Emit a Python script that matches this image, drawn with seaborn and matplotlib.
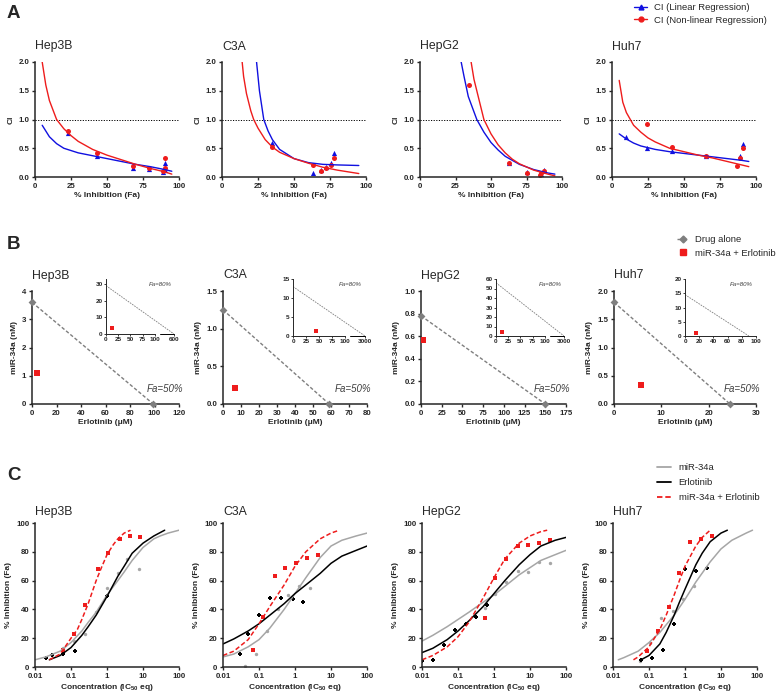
import numpy as np
import matplotlib
matplotlib.use('Agg')
import matplotlib.pyplot as plt
import seaborn as sns
from matplotlib.lines import Line2D
from matplotlib.ticker import NullLocator

sns.set_style('ticks')
plt.rcParams['font.family'] = ['Liberation Sans', 'DejaVu Sans']
plt.rcParams['mathtext.fontset'] = 'custom'
plt.rcParams['mathtext.rm'] = 'Liberation Sans'
plt.rcParams['mathtext.bf'] = 'Liberation Sans:bold'
plt.rcParams['mathtext.default'] = 'bf'

# ==========================================
# 数据
# ==========================================
CELLS = ['Hep3B', 'C3A', 'HepG2', 'Huh7']

# --- A: CI vs % inhibition ---
ci_lin_curve = {
    'Hep3B': ([5, 10, 15, 20, 30, 40, 50, 60, 70, 80, 90, 95],
              [0.90, 0.70, 0.58, 0.50, 0.42, 0.37, 0.32, 0.27, 0.22, 0.18, 0.13, 0.10]),
    'C3A': ([24, 26, 29, 32, 35, 40, 50, 60, 70, 80, 95],
            [2.0, 1.5, 1.0, 0.8, 0.65, 0.48, 0.32, 0.25, 0.22, 0.21, 0.20]),
    'HepG2': ([29, 31, 34, 37, 40, 45, 50, 55, 60, 70, 80, 90, 95],
              [2.0, 1.75, 1.4, 1.2, 1.0, 0.78, 0.6, 0.47, 0.36, 0.22, 0.13, 0.07, 0.05]),
    'Huh7': ([5, 10, 15, 20, 30, 40, 50, 60, 70, 80, 90, 95],
             [0.75, 0.66, 0.59, 0.54, 0.48, 0.44, 0.41, 0.38, 0.35, 0.32, 0.29, 0.27]),
}
ci_nonlin_curve = {
    'Hep3B': ([5, 7.5, 10, 15, 20, 25, 30, 40, 50, 60, 70, 80, 90, 95],
              [2.0, 1.6, 1.33, 1.0, 0.84, 0.72, 0.62, 0.48, 0.38, 0.30, 0.22, 0.15, 0.09, 0.05]),
    'C3A': ([14, 15, 17, 20, 22, 25, 30, 35, 40, 50, 60, 70, 80, 90, 95],
            [2.0, 1.75, 1.45, 1.15, 1.0, 0.85, 0.65, 0.52, 0.43, 0.32, 0.24, 0.17, 0.12, 0.08, 0.06]),
    'HepG2': ([36, 38, 40, 43, 45, 50, 55, 60, 65, 70, 80, 90, 95],
              [2.0, 1.7, 1.5, 1.2, 1.0, 0.75, 0.56, 0.42, 0.31, 0.23, 0.12, 0.05, 0.02]),
    'Huh7': ([5, 7.5, 10, 15, 20, 25, 30, 40, 50, 60, 70, 80, 90, 95],
             [1.68, 1.3, 1.12, 0.9, 0.78, 0.68, 0.61, 0.50, 0.44, 0.38, 0.33, 0.27, 0.21, 0.18]),
}
ci_lin_pts = {
    'Hep3B': ([23, 43, 68, 79, 89, 90, 90], [0.76, 0.37, 0.15, 0.14, 0.08, 0.25, 0.13]),
    'C3A': ([35, 63.5, 68.5, 72, 76, 78], [0.60, 0.07, 0.12, 0.17, 0.24, 0.41]),
    'HepG2': ([62.5, 75, 85, 87.5], [0.25, 0.09, 0.06, 0.12]),
    'Huh7': ([10, 24.5, 42, 65, 89, 91], [0.69, 0.50, 0.46, 0.37, 0.37, 0.58]),
}
ci_nonlin_pts = {
    'Hep3B': ([23, 43, 68, 79, 89, 90, 90], [0.80, 0.42, 0.19, 0.15, 0.10, 0.33, 0.16]),
    'C3A': ([35, 63.5, 68.5, 72, 76, 78], [0.52, 0.21, 0.11, 0.15, 0.21, 0.33]),
    'HepG2': ([34.5, 62.5, 75, 84.5, 85.5, 87.5], [1.60, 0.24, 0.07, 0.03, 0.07, 0.10]),
    'Huh7': ([24.5, 42, 65, 87, 89, 91], [0.92, 0.52, 0.37, 0.20, 0.33, 0.51]),
}

# --- B: isobologram ---
iso50_alone = {  # (erlotinib 截距, miR-34a 截距)
    'Hep3B': (99, 3.6), 'C3A': (59, 1.25), 'HepG2': (150, 0.78), 'Huh7': (24.5, 1.8)}
iso50_combo = {
    'Hep3B': (4, 1.1), 'C3A': (6.9, 0.21), 'HepG2': (2, 0.57), 'Huh7': (5.6, 0.34)}
iso80_alone = {
    'Hep3B': (600, 29), 'C3A': (3000, 13), 'HepG2': (3000, 56), 'Huh7': (90, 14.5)}
iso80_combo = {
    'Hep3B': (12, 3.5), 'C3A': (45, 1.3), 'HepG2': (12, 4), 'Huh7': (16, 1.1)}
b_xticks = {'Hep3B': [0, 20, 40, 60, 80, 100, 120], 'C3A': [0, 10, 20, 30, 40, 50, 60, 70, 80],
            'HepG2': [0, 25, 50, 75, 100, 125, 150, 175], 'Huh7': [0, 10, 20, 30]}
b_yticks = {'Hep3B': [0, 1, 2, 3, 4], 'C3A': [0.0, 0.5, 1.0, 1.5],
            'HepG2': [0.0, 0.2, 0.4, 0.6, 0.8, 1.0], 'Huh7': [0.0, 0.5, 1.0, 1.5, 2.0]}
b_ylabels = {'Hep3B': ['0', '1', '2', '3', '4'], 'C3A': ['0.0', '0.5', '1.0', '1.5'],
             'HepG2': ['0.0', '0.2', '0.4', '0.6', '0.8', '1.0'],
             'Huh7': ['0.0', '0.5', '1.0', '1.5', '2.0']}
ins_xticks = {'Hep3B': [0, 25, 50, 75, 100, 600], 'C3A': [0, 25, 50, 75, 100, 3000],
              'HepG2': [0, 25, 50, 75, 100, 3000], 'Huh7': [0, 20, 40, 60, 80, 100]}
ins_yticks = {'Hep3B': [0, 10, 20, 30], 'C3A': [0, 5, 10, 15],
              'HepG2': [0, 10, 20, 30, 40, 50, 60], 'Huh7': [0, 5, 10, 15, 20]}
ins_ymax = {'Hep3B': 33, 'C3A': 15, 'HepG2': 60, 'Huh7': 20}

# --- C: dose response ---
mir_curve = {
    'Hep3B': ([0.01, 0.02, 0.05, 0.1, 0.2, 0.3, 0.5, 1, 2, 3, 5, 10, 20, 30, 50, 100],
              [5, 7, 11, 17, 25, 31, 38, 50, 60, 66, 74, 83, 89, 91, 93, 95]),
    'C3A': ([0.01, 0.02, 0.05, 0.1, 0.2, 0.5, 1, 2, 5, 10, 20, 50, 100],
            [7, 9, 14, 19, 27, 40, 51, 62, 76, 84, 88, 91, 93]),
    'HepG2': ([0.01, 0.02, 0.05, 0.1, 0.2, 0.5, 1, 2, 5, 10, 20, 50, 100],
              [18, 22, 28, 33, 38, 45, 50, 56, 64, 69, 74, 78, 81]),
    'Huh7': ([0.014, 0.02, 0.05, 0.1, 0.2, 0.5, 1, 2, 5, 10, 20, 50, 75],
             [5, 6.5, 11, 17, 24, 36, 47, 59, 73, 82, 88, 93, 95]),
}
erl_curve = {
    'Hep3B': ([0.025, 0.05, 0.1, 0.2, 0.3, 0.5, 1, 2, 3, 5, 10, 20, 40],
              [5, 8, 13.5, 22, 28, 36, 49, 63, 70, 79, 86, 91, 95]),
    'C3A': ([0.01, 0.02, 0.05, 0.1, 0.2, 0.5, 1, 2, 5, 10, 20, 50, 100],
            [16, 19.5, 25, 30, 36, 44, 51, 57, 65, 72, 77, 81, 84]),
    'HepG2': ([0.01, 0.02, 0.05, 0.1, 0.2, 0.5, 1, 2, 5, 10, 20, 50, 100],
              [10, 13, 19, 25, 32, 42, 51, 60, 71, 78, 84, 88, 90]),
    'Huh7': ([0.06, 0.1, 0.2, 0.3, 0.5, 0.7, 1, 2, 3, 5, 10, 15],
             [5, 8, 16, 24, 36, 45, 54, 71, 79, 87, 93, 95]),
}
combo_curve = {
    'Hep3B': ([0.025, 0.05, 0.1, 0.15, 0.2, 0.3, 0.5, 0.7, 1, 1.5, 2, 3, 4.5],
              [5, 9, 20, 26, 33, 44, 60, 69, 78, 85, 89, 93, 95]),
    'C3A': ([0.01, 0.02, 0.05, 0.1, 0.2, 0.5, 1, 2, 5, 10, 17],
            [8, 11, 19, 30, 42, 57, 70, 80, 89, 93, 95]),
    'HepG2': ([0.01, 0.02, 0.05, 0.1, 0.2, 0.5, 1, 2, 5, 10, 20, 30],
              [5, 8, 14, 21, 31, 48, 62, 75, 86, 91, 94, 95]),
    'Huh7': ([0.037, 0.05, 0.1, 0.2, 0.3, 0.5, 0.7, 1, 2, 3, 5],
             [5, 7, 14, 26, 36, 50, 60, 70, 84, 90, 95]),
}
mir_pts = {
    'Hep3B': ([0.03, 0.06, 0.12, 0.25, 0.5, 1, 2, 3.7, 7.5], [8, 13, 18, 23, 38, 55, 65, 75, 68]),
    'C3A': ([0.04, 0.08, 0.17, 0.33, 0.65, 1.3, 2.6], [1, 9, 25, 40, 50, 56, 55]),
    'HepG2': ([0.55, 1.1, 2.2, 4.5, 9, 18, 36], [41, 51, 59, 67, 66, 73, 72]),
    'Huh7': ([0.055, 0.11, 0.22, 0.45, 0.9, 1.8], [4, 17, 34, 39, 47, 56]),
}
erl_pts = {
    'Hep3B': ([0.02, 0.03, 0.06, 0.13, 1.0], [6, 8, 9, 11, 49]),
    'C3A': ([0.03, 0.05, 0.1, 0.2, 0.4, 0.9, 1.7], [9, 23, 36, 48, 48, 47, 45]),
    'HepG2': ([0.01, 0.02, 0.04, 0.08, 0.17, 0.32, 0.64], [4, 5, 15, 26, 30, 35, 43]),
    'Huh7': ([0.06, 0.12, 0.25, 0.5, 1.0, 2.0, 4.0], [5, 6, 12, 30, 68, 67, 69]),
}
combo_pts = {
    'Hep3B': ([0.06, 0.12, 0.25, 0.55, 1.05, 2.3, 4.4, 8.5], [12, 23, 43, 68, 79, 89, 91, 90]),
    'C3A': ([0.07, 0.13, 0.27, 0.53, 1.05, 2.2, 4.4], [12, 35, 63, 69, 72, 76, 78]),
    'HepG2': ([0.55, 1.1, 2.2, 4.5, 9, 18, 36], [34, 62, 75, 84, 85, 86, 88]),
    'Huh7': ([0.09, 0.18, 0.35, 0.7, 1.4, 2.8, 5.6], [11, 25, 42, 65, 87, 89, 91]),
}

# ==========================================
# 布局 (像素)
# ==========================================
W, H = 782, 697
A_BOX = {'Hep3B': (35, 62, 179, 177), 'C3A': (222, 62, 366, 177),
         'HepG2': (420, 62, 562, 177), 'Huh7': (612, 62, 756, 177)}
B_BOX = {'Hep3B': (32, 291, 179, 404), 'C3A': (223, 291, 367, 404),
         'HepG2': (421, 291, 566, 404), 'Huh7': (614, 291, 756, 404)}
INS_BOX = {'Hep3B': (106, 279, 174, 334), 'C3A': (293, 279, 365, 336),
           'HepG2': (496, 279, 564, 336), 'Huh7': (685, 279, 756, 336)}
C_BOX = {'Hep3B': (35, 523, 179, 667), 'C3A': (223, 523, 367, 667),
         'HepG2': (422, 523, 566, 667), 'Huh7': (613, 523, 757, 667)}

BLUE = '#1010e0'
RED = '#ee1c1c'
GREY = '#a6a6a6'
DGREY = '#7f7f7f'
TICK_FS = 5.7
LAB_FS = 6.0
LEG_FS = 6.8

fig = plt.figure(figsize=(W / 100, H / 100), dpi=100)


def px_axes(box):
    x0, y0, x1, y1 = box
    return fig.add_axes([x0 / W, 1 - y1 / H, (x1 - x0) / W, (y1 - y0) / H])


def style(ax, lw=1.1, fs=TICK_FS, length=2.5):
    sns.despine(ax=ax)
    for s in ['left', 'bottom']:
        ax.spines[s].set_linewidth(lw)
    ax.tick_params(width=lw * 0.9, length=length, labelsize=fs, pad=1.5)


def set_ticks(ax, xt, yt, xl=None, yl=None, fs=TICK_FS):
    ax.set_xticks(xt, xl if xl is not None else [str(t) for t in xt], fontweight='bold', fontsize=fs)
    ax.set_yticks(yt, yl if yl is not None else [str(t) for t in yt], fontweight='bold', fontsize=fs)


def line(ax, xs, ys, **kw):
    sns.lineplot(x=xs, y=ys, ax=ax, sort=False, estimator=None, legend=False, **kw)


def pts(ax, xs, ys, **kw):
    sns.scatterplot(x=xs, y=ys, ax=ax, legend=False, linewidth=0, **kw)


# ==========================================
# A
# ==========================================
for c in CELLS:
    ax = px_axes(A_BOX[c])
    style(ax)
    ax.axhline(1.0, color='k', lw=0.7, ls=(0, (1.2, 1.5)))
    line(ax, *ci_lin_curve[c], color=BLUE, lw=1.0)
    line(ax, *ci_nonlin_curve[c], color=RED, lw=1.0)
    pts(ax, *ci_lin_pts[c], color=BLUE, marker='^', s=14, clip_on=False)
    pts(ax, *ci_nonlin_pts[c], color=RED, marker='o', s=13, clip_on=False)
    ax.set_xlim(0, 100)
    ax.set_ylim(0, 2.0)
    set_ticks(ax, [0, 25, 50, 75, 100], [0, 0.5, 1.0, 1.5, 2.0],
              yl=['0.0', '0.5', '1.0', '1.5', '2.0'])
    ax.set_xlabel('% Inhibition (Fa)', fontsize=LAB_FS, fontweight='bold', labelpad=2)
    ax.set_ylabel('CI', fontsize=LAB_FS, fontweight='bold', labelpad=3)
    ax.set_title(c, loc='left', fontsize=8.8, pad=9)

fig.legend([Line2D([], [], color=BLUE, marker='^', ms=3.5, lw=1.0),
            Line2D([], [], color=RED, marker='o', ms=3.5, lw=1.0)],
           ['CI (Linear Regression)', 'CI (Non-linear Regression)'],
           loc='upper left', bbox_to_anchor=(634 / W, 1 - 3 / H), frameon=False,
           fontsize=LEG_FS, handlelength=1.4, handletextpad=0.7, labelspacing=0.4,
           borderpad=0, borderaxespad=0)


# ==========================================
# B
# ==========================================
def brk_scale(xmax, cut=0.72):
    def fwd(x):
        x = np.asarray(x, dtype=float)
        return np.where(x <= 100, x / 100 * cut, cut + (x - 100) / (xmax - 100) * (1 - cut))

    def inv(u):
        u = np.asarray(u, dtype=float)
        return np.where(u <= cut, u / cut * 100, 100 + (u - cut) / (1 - cut) * (xmax - 100))
    return fwd, inv


for c in CELLS:
    ax = px_axes(B_BOX[c])
    style(ax)
    xa, ya = iso50_alone[c]
    line(ax, [0, xa], [ya, 0], color=DGREY, lw=1.0, ls=(0, (2.5, 1.5)))
    pts(ax, [0, xa], [ya, 0], color=DGREY, marker='D', s=16, clip_on=False, zorder=5)
    pts(ax, [iso50_combo[c][0]], [iso50_combo[c][1]], color=RED, marker='s', s=22, zorder=5)
    xt, yt = b_xticks[c], b_yticks[c]
    ax.set_xlim(0, xt[-1])
    ax.set_ylim(0, yt[-1])
    set_ticks(ax, xt, yt, yl=b_ylabels[c])
    ax.set_xlabel('Erlotinib (μM)', fontsize=LAB_FS, fontweight='bold', labelpad=2)
    ax.set_ylabel('miR-34a (nM)', fontsize=LAB_FS, fontweight='bold', labelpad=3)
    ax.set_title(c, loc='left', fontsize=8.8, pad=9)
    ax.text(1.03, 0.13, 'Fa=50%', transform=ax.transAxes, ha='right', va='center',
            fontsize=7, style='italic', color='#404040')

    # inset, Fa=80%
    ins = px_axes(INS_BOX[c])
    style(ins, lw=0.7, fs=4.6, length=1.5)
    xa8, ya8 = iso80_alone[c]
    if xa8 > 100:
        fwd, inv = brk_scale(xa8)
        ins.set_xscale('function', functions=(fwd, inv))
    line(ins, [0, xa8], [ya8, 0], color=DGREY, lw=0.6, ls=(0, (2, 1.2)))
    pts(ins, [iso80_combo[c][0]], [iso80_combo[c][1]], color=RED, marker='s', s=6, zorder=5)
    ins.set_xlim(0, xa8 if xa8 > 100 else 100)
    ins.set_ylim(0, ins_ymax[c])
    set_ticks(ins, ins_xticks[c], ins_yticks[c], fs=4.6)
    ins.tick_params(pad=1)
    if xa8 > 100:
        ins.spines['bottom'].set_bounds(0, 100)
        ins.plot([float(inv(0.79)), xa8], [0, 0], transform=ins.get_xaxis_transform(),
                 color='k', lw=0.7, clip_on=False)
    ins.text(0.8, 0.9, 'Fa=80%', transform=ins.transAxes, ha='center', va='center',
             fontsize=4.4, style='italic', color='#404040')

fig.legend([Line2D([], [], color=DGREY, marker='D', ms=3.5, lw=1.0, ls=(0, (2.5, 1.5))),
            Line2D([], [], color=RED, marker='s', ms=4.5, lw=0)],
           ['Drug alone', 'miR-34a + Erlotinib'],
           loc='upper left', bbox_to_anchor=(677 / W, 1 - 235 / H), frameon=False,
           fontsize=LEG_FS, handlelength=1.2, handletextpad=0.7, labelspacing=0.5,
           borderpad=0, borderaxespad=0)

# ==========================================
# C
# ==========================================
for c in CELLS:
    ax = px_axes(C_BOX[c])
    style(ax)
    ax.set_xscale('log')
    line(ax, *mir_curve[c], color=GREY, lw=1.1)
    line(ax, *erl_curve[c], color='black', lw=1.1)
    line(ax, *combo_curve[c], color=RED, lw=1.1, ls=(0, (3, 1.6)))
    pts(ax, *mir_pts[c], color=GREY, marker='o', s=6)
    pts(ax, *erl_pts[c], color='black', marker='P', s=6)
    pts(ax, *combo_pts[c], color=RED, marker='s', s=5)
    ax.set_xlim(0.01, 100)
    ax.set_ylim(0, 100)
    set_ticks(ax, [0.01, 0.1, 1, 10, 100], [0, 20, 40, 60, 80, 100],
              xl=['0.01', '0.1', '1', '10', '100'])
    ax.xaxis.set_minor_locator(NullLocator())
    ax.set_xlabel('Concentration (IC$_{50}$ eq)', fontsize=LAB_FS, fontweight='bold', labelpad=2)
    ax.set_ylabel('% Inhibition (Fa)', fontsize=LAB_FS, fontweight='bold', labelpad=3)
    ax.set_title(c, loc='left', fontsize=8.8, pad=6)

fig.legend([Line2D([], [], color=GREY, lw=1.3),
            Line2D([], [], color='black', lw=1.3),
            Line2D([], [], color=RED, lw=1.3, ls=(0, (3, 1.6)))],
           ['miR-34a', 'Erlotinib', 'miR-34a + Erlotinib'],
           loc='upper left', bbox_to_anchor=(657 / W, 1 - 463 / H), frameon=False,
           fontsize=LEG_FS, handlelength=1.5, handletextpad=0.8, labelspacing=0.65,
           borderpad=0, borderaxespad=0)

# 面板字母
for letter, ytop in [('A', 5), ('B', 236), ('C', 467)]:
    fig.text(7 / W, 1 - ytop / H, letter, fontsize=13.5, fontweight='bold', va='top', ha='left')

fig.savefig('out.png', dpi=100)
